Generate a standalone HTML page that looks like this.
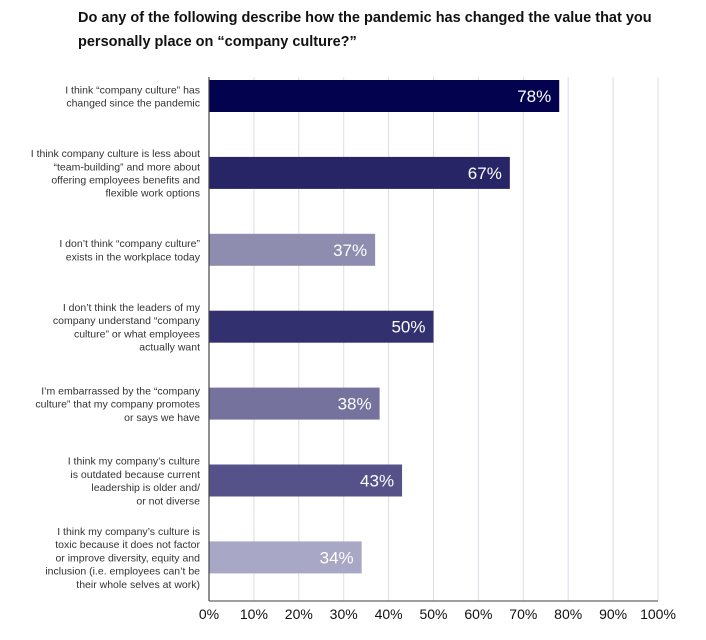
<!DOCTYPE html>
<html><head><meta charset="utf-8"><style>
body{margin:0;background:#fff;width:706px;height:635px;overflow:hidden;font-family:"Liberation Sans",sans-serif}
</style></head><body>
<svg id="c" width="706" height="635">
<text x="78" y="22" font-size="14.5" font-weight="bold" fill="#111">Do any of the following describe how the pandemic has changed the value that you</text>
<text x="78" y="46" font-size="14.5" font-weight="bold" fill="#111">personally place on “company culture?”</text>
</svg>
<script>
const categories=[
["I think “company culture” has","changed since the pandemic"],
["I think company culture is less about","“team-building” and more about","offering employees benefits and","flexible work options"],
["I don’t think “company culture”","exists in the workplace today"],
["I don’t think the leaders of my","company understand “company","culture” or what employees","actually want"],
["I’m embarrassed by the “company","culture” that my company promotes","or says we have"],
["I think my company’s culture","is outdated because current","leadership is older and/","or not diverse"],
["I think my company’s culture is","toxic because it does not factor","or improve diversity, equity and","inclusion (i.e. employees can’t be","their whole selves at work)"]];
const values=[78,67,37,50,38,43,34];
const colors=["#02024f","#272566","#8e8db0","#33306f","#75729e","#55528a","#a9a7c6"];
const ticks=[0,10,20,30,40,50,60,70,80,90,100];
const NS="http://www.w3.org/2000/svg";
const svg=document.getElementById('c');
const X0=209,W=449,TOP=77,BOT=601,Y0=80,STEP=76.9,BH=32;
const xs=v=>X0+v/100*W;
const ys=i=>Y0+i*STEP;
function mk(t,a){const e=document.createElementNS(NS,t);for(const k in a)e.setAttribute(k,a[k]);svg.appendChild(e);return e;}
ticks.forEach(t=>{
 if(t>0){const g=mk('line',{x1:xs(t),x2:xs(t),y1:TOP,y2:BOT,stroke:'#dddbe6','stroke-width':1});
 
 }
 const l=mk('text',{x:xs(t),y:619,'text-anchor':'middle','font-size':14,fill:'#111'});l.textContent=t+'%';
 
 
});
values.forEach((v,i)=>{
 const y=ys(i);
 const r=mk('rect',{x:X0,y:y,width:xs(v)-X0,height:BH,fill:colors[i]});
 
 
 const t=mk('text',{x:xs(v)-8,y:y+BH/2+6,'text-anchor':'end','font-size':17,fill:'#fff'});t.textContent=v+'%';
 
 
 const lines=categories[i],lh=13.2,cy=y+BH/2;
 lines.forEach((s,j)=>{
  const tt=mk('text',{x:200,y:cy+(j-(lines.length-1)/2)*lh+4,'text-anchor':'end','font-size':10.5,fill:'#333'});tt.textContent=s;
  
  
 });
});
const ax=mk('line',{x1:X0,x2:X0,y1:TOP,y2:BOT,stroke:'#444','stroke-width':1.2});


const bx=mk('line',{x1:X0,x2:xs(100),y1:BOT,y2:BOT,stroke:'#666','stroke-width':1.2});


</script>
</body></html>
